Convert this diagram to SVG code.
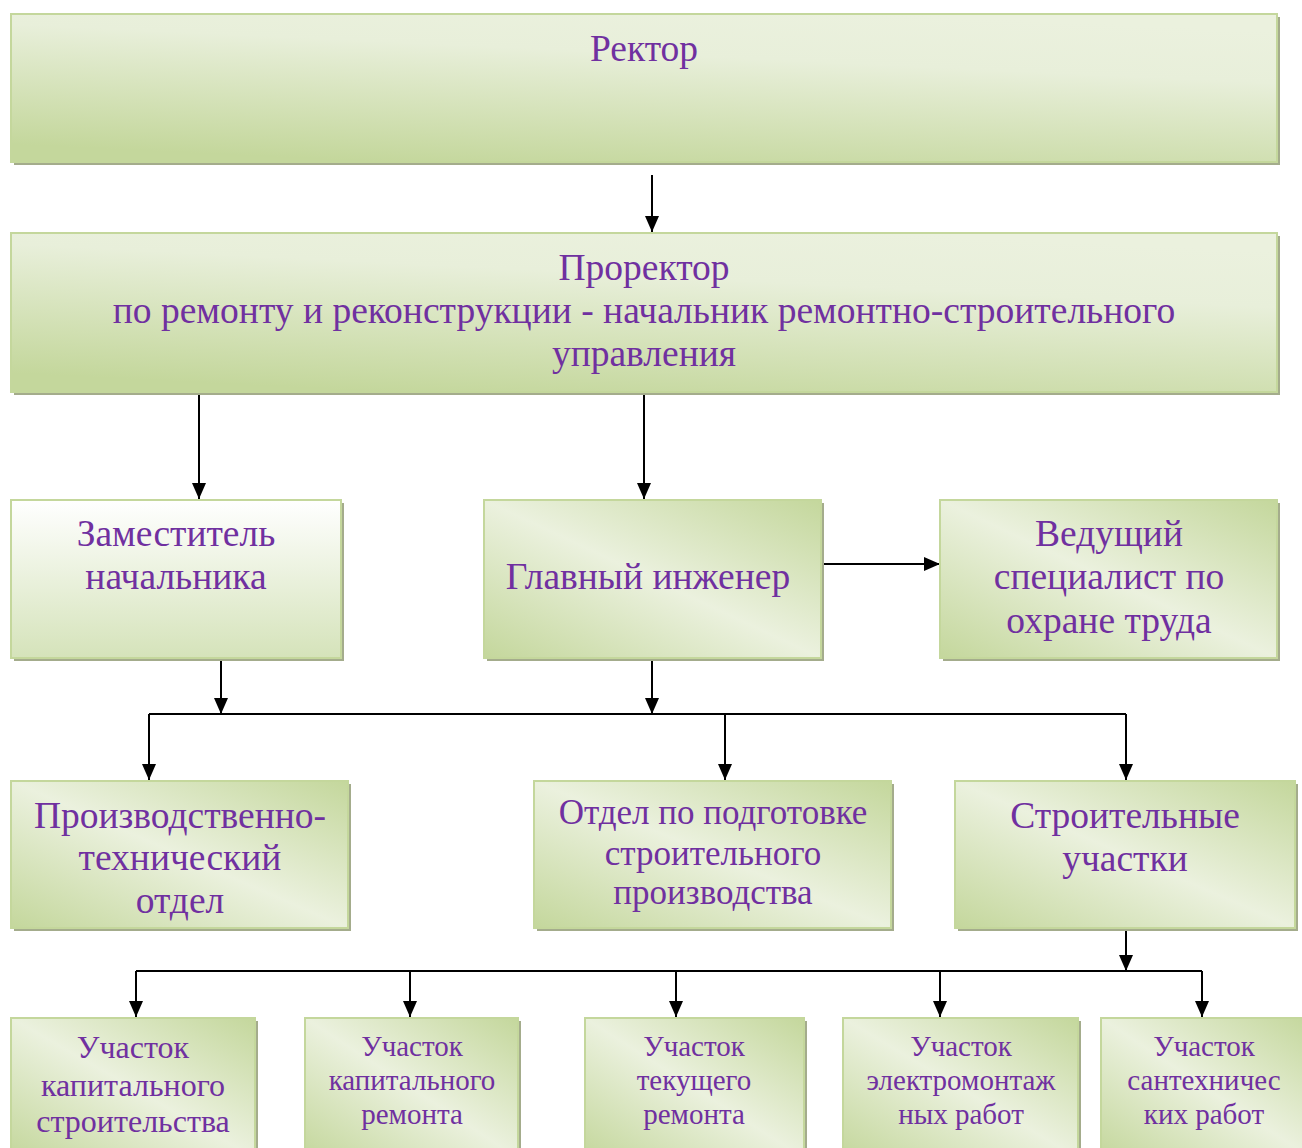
<svg xmlns="http://www.w3.org/2000/svg" width="1302" height="1148" viewBox="0 0 1302 1148">
<defs>
<linearGradient id="gTop" x1="0.7" y1="0" x2="0.3" y2="1">
<stop offset="0" stop-color="#ebf1de"/>
<stop offset="0.3" stop-color="#e8efda"/>
<stop offset="1" stop-color="#c4d79c"/>
</linearGradient>
<linearGradient id="gDiag" x1="1" y1="0" x2="0" y2="1">
<stop offset="0" stop-color="#c4d79c"/>
<stop offset="0.5" stop-color="#ebf1de"/>
<stop offset="1" stop-color="#c4d79c"/>
</linearGradient>
<linearGradient id="gZam" x1="0" y1="0" x2="0" y2="1">
<stop offset="0" stop-color="#ffffff"/>
<stop offset="1" stop-color="#d5e3ba"/>
</linearGradient>
<marker id="ah" viewBox="0 0 16 14" refX="16" refY="7" markerWidth="16" markerHeight="14" markerUnits="userSpaceOnUse" orient="auto">
<path d="M0,0 L16,7 L0,14 z" fill="#000"/>
</marker>
</defs>
<style>
.sh{fill:#a4ac8c}
.bx{stroke:#c4d79c;stroke-width:2}
.t{font-family:"Liberation Serif","Times New Roman",serif;fill:#7030a0;text-anchor:middle}
.c{fill:none;stroke:#000;stroke-width:2}
</style>

<g id="connectors">
<path class="c" d="M652,175 V232" marker-end="url(#ah)"/>
<path class="c" d="M199,391 V499" marker-end="url(#ah)"/>
<path class="c" d="M644,391 V499" marker-end="url(#ah)"/>
<path class="c" d="M823,564 H940" marker-end="url(#ah)"/>
<path class="c" d="M221,660 V714" marker-end="url(#ah)"/>
<path class="c" d="M652,660 V714" marker-end="url(#ah)"/>
<path class="c" d="M149,714 H1126"/>
<path class="c" d="M149,714 V780" marker-end="url(#ah)"/>
<path class="c" d="M725,714 V780" marker-end="url(#ah)"/>
<path class="c" d="M1126,714 V780" marker-end="url(#ah)"/>
<path class="c" d="M1126,929 V971" marker-end="url(#ah)"/>
<path class="c" d="M136,971 H1202"/>
<path class="c" d="M136,971 V1017" marker-end="url(#ah)"/>
<path class="c" d="M410,971 V1017" marker-end="url(#ah)"/>
<path class="c" d="M676,971 V1017" marker-end="url(#ah)"/>
<path class="c" d="M940,971 V1017" marker-end="url(#ah)"/>
<path class="c" d="M1202,971 V1017" marker-end="url(#ah)"/>
</g>

<g id="rector">
<rect class="sh" x="14" y="17" width="1266" height="148"/>
<rect class="bx" x="11" y="14" width="1266" height="148" fill="url(#gTop)"/>
<text class="t" x="644" y="61" font-size="37.5">Ректор</text>
</g>

<g id="prorector">
<rect class="sh" x="14" y="236" width="1266" height="159"/>
<rect class="bx" x="11" y="233" width="1266" height="159" fill="url(#gTop)"/>
<text class="t" font-size="37.5"><tspan x="644" y="280">Проректор</tspan><tspan x="644" y="323">по ремонту и реконструкции - начальник ремонтно-строительного</tspan><tspan x="644" y="366">управления</tspan></text>
</g>

<g id="zam">
<rect class="sh" x="14" y="503" width="330" height="158"/>
<rect class="bx" x="11" y="500" width="330" height="158" fill="url(#gZam)"/>
<text class="t" font-size="37.5"><tspan x="176" y="546">Заместитель</tspan><tspan x="176" y="589">начальника</tspan></text>
</g>

<g id="glavny">
<rect class="sh" x="487" y="503" width="337" height="158"/>
<rect class="bx" x="484" y="500" width="337" height="158" fill="url(#gDiag)"/>
<text class="t" x="648" y="589" font-size="37.5">Главный инженер</text>
</g>

<g id="vedushchy">
<rect class="sh" x="943" y="503" width="337" height="158"/>
<rect class="bx" x="940" y="500" width="337" height="158" fill="url(#gDiag)"/>
<text class="t" font-size="37.5"><tspan x="1109" y="546">Ведущий</tspan><tspan x="1109" y="589">специалист по</tspan><tspan x="1109" y="633">охране труда</tspan></text>
</g>

<g id="pto">
<rect class="sh" x="14" y="784" width="337" height="147"/>
<rect class="bx" x="11" y="781" width="337" height="147" fill="url(#gDiag)"/>
<text class="t" font-size="37.5"><tspan x="180" y="828">Производственно-</tspan><tspan x="180" y="870">технический</tspan><tspan x="180" y="913">отдел</tspan></text>
</g>

<g id="otdel">
<rect class="sh" x="537" y="784" width="357" height="147"/>
<rect class="bx" x="534" y="781" width="357" height="147" fill="url(#gDiag)"/>
<text class="t" font-size="35"><tspan x="713" y="824">Отдел по подготовке</tspan><tspan x="713" y="865">строительного</tspan><tspan x="713" y="904">производства</tspan></text>
</g>

<g id="stroit">
<rect class="sh" x="958" y="784" width="340" height="147"/>
<rect class="bx" x="955" y="781" width="340" height="147" fill="url(#gDiag)"/>
<text class="t" font-size="37.5"><tspan x="1125" y="828">Строительные</tspan><tspan x="1125" y="871">участки</tspan></text>
</g>

<g id="u1">
<rect class="sh" x="14" y="1021" width="244" height="140"/>
<rect class="bx" x="11" y="1018" width="244" height="140" fill="url(#gDiag)"/>
<text class="t" font-size="32"><tspan x="133" y="1058">Участок</tspan><tspan x="133" y="1096">капитального</tspan><tspan x="133" y="1132">строительства</tspan></text>
</g>

<g id="u2">
<rect class="sh" x="308" y="1021" width="213" height="140"/>
<rect class="bx" x="305" y="1018" width="213" height="140" fill="url(#gDiag)"/>
<text class="t" font-size="29"><tspan x="412" y="1056">Участок</tspan><tspan x="412" y="1090">капитального</tspan><tspan x="412" y="1124">ремонта</tspan></text>
</g>

<g id="u3">
<rect class="sh" x="588" y="1021" width="219" height="140"/>
<rect class="bx" x="585" y="1018" width="219" height="140" fill="url(#gDiag)"/>
<text class="t" font-size="29"><tspan x="694" y="1056">Участок</tspan><tspan x="694" y="1090">текущего</tspan><tspan x="694" y="1124">ремонта</tspan></text>
</g>

<g id="u4">
<rect class="sh" x="846" y="1021" width="235" height="140"/>
<rect class="bx" x="843" y="1018" width="235" height="140" fill="url(#gDiag)"/>
<text class="t" font-size="29"><tspan x="961" y="1056">Участок</tspan><tspan x="961" y="1090">электромонтаж</tspan><tspan x="961" y="1124">ных работ</tspan></text>
</g>

<g id="u5">
<rect class="sh" x="1104" y="1021" width="210" height="140"/>
<rect class="bx" x="1101" y="1018" width="210" height="140" fill="url(#gDiag)"/>
<text class="t" font-size="29"><tspan x="1204" y="1056">Участок</tspan><tspan x="1204" y="1090">сантехничес</tspan><tspan x="1204" y="1124">ких работ</tspan></text>
</g>
</svg>
